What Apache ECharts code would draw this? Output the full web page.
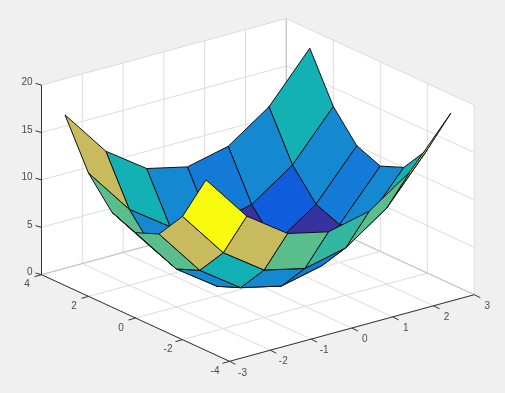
<!DOCTYPE html>
<html>
<head>
<meta charset="utf-8">
<style>html,body{margin:0;padding:0;background:#f0f0f0}#c{width:505px;height:393px}</style>
<script src="https://cdn.jsdelivr.net/npm/echarts@6/dist/echarts.min.js"></script>
</head>
<body>
<div id="c"></div>
<script>
// Data
const xGrid = [-3, -2, -1, 0, 1, 2, 3];
const yGrid = [-3, -2, -1, 0, 1, 2, 3];
// zValues[ix][iy]
const zValues = [
  [18, 13, 10, 9, 10, 13, 18],
  [13, 8, 5, 4, 5, 8, 13],
  [10, 5, 2, 1, 2, 5, 10],
  [9, 4, 1, 0, 1, 4, 9],
  [10, 5, 2, 1, 2, 5, 10],
  [13, 8, 5, 4, 5, 8, 13],
  [18, 13, 10, 9, 10, 13, 18]
];
const xTicks = [-3, -2, -1, 0, 1, 2, 3];
const yTicks = [-4, -2, 0, 2, 4];
const zTicks = [0, 5, 10, 15, 20];
const colorLevels = [0, 1, 2, 4, 5, 8, 9, 10, 13, 18];
const levelColors = ['#352A87', '#3632A0', '#0F5CDD', '#137AD8', '#1488D0', '#14B1B4', '#33B7A0', '#5ABE8C', '#C8BB5E', '#F9FB0E'];

// View: orthographic projection of the box onto the page
const ORIGIN = [229.5, 361.3];      // x=-3, y=-4, z=0
const EX = [40.8, -11.1];
const EY = [-23.5, -10.825];
const EZ = [0, -9.48];
function proj(x, y, z) {
  return [
    ORIGIN[0] + (x + 3) * EX[0] + (y + 4) * EY[0] + z * EZ[0],
    ORIGIN[1] + (x + 3) * EX[1] + (y + 4) * EY[1] + z * EZ[1]
  ];
}
const XMIN = -3, XMAX = 3, YMIN = -4, YMAX = 4, ZMIN = 0, ZMAX = 20;

// Build draw lists from the arrays
const cells = [];
for (let i = xGrid.length - 2; i >= 0; i--) {
  for (let j = yGrid.length - 2; j >= 0; j--) cells.push([i, j]);
}
const LIGHT = '#dcdcdc', EDGE = '#c4c4c4', AXIS = '#333333', TXT = '#4a4a4a';
const gridSegs = [];
xTicks.forEach(x => {
  gridSegs.push([x, YMIN, ZMIN, x, YMAX, ZMIN, 0]);
  gridSegs.push([x, YMAX, ZMIN, x, YMAX, ZMAX, 0]);
});
yTicks.forEach(y => {
  gridSegs.push([XMIN, y, ZMIN, XMAX, y, ZMIN, 0]);
  gridSegs.push([XMAX, y, ZMIN, XMAX, y, ZMAX, 0]);
});
zTicks.forEach(z => {
  gridSegs.push([XMIN, YMAX, z, XMAX, YMAX, z, 0]);
  gridSegs.push([XMAX, YMAX, z, XMAX, YMIN, z, 0]);
});
const edgeSegs = [
  [XMIN, YMAX, ZMIN, XMAX, YMAX, ZMIN, 1],
  [XMAX, YMAX, ZMIN, XMAX, YMIN, ZMIN, 1],
  [XMAX, YMAX, ZMIN, XMAX, YMAX, ZMAX, 1]
];
const axisSegs = [
  [XMIN, YMAX, ZMIN, XMIN, YMAX, ZMAX, 2],
  [XMIN, YMAX, ZMIN, XMIN, YMIN, ZMIN, 2],
  [XMIN, YMIN, ZMIN, XMAX, YMIN, ZMIN, 2]
];
const allSegs = gridSegs.concat(edgeSegs).concat(axisSegs);
const segStyle = [
  { stroke: LIGHT, lineWidth: 1 },
  { stroke: EDGE, lineWidth: 1 },
  { stroke: AXIS, lineWidth: 1 }
];
const labels = [];
xTicks.forEach(v => { const p = proj(v, YMIN, ZMIN); labels.push({ v, a: p, t: [6, 3], o: [13, 11.5], al: 'center' }); });
yTicks.forEach(v => { const p = proj(XMIN, v, ZMIN); labels.push({ v, a: p, t: [-7, 2], o: [-14.5, 10], al: 'center' }); });
zTicks.forEach(v => { const p = proj(XMIN, YMAX, v); labels.push({ v, a: p, t: [-6, -1.7], o: [-9, -2.5], al: 'right' }); });

const chart = echarts.init(document.getElementById('c'), null, { renderer: 'canvas' });

function pt(api, p) { return api.coord(p); }

chart.setOption({
  backgroundColor: '#f0f0f0',
  animation: false,
  grid: { left: 0, right: 0, top: 0, bottom: 0 },
  xAxis: { type: 'value', min: 0, max: 505, show: false },
  yAxis: { type: 'value', min: 0, max: 393, inverse: true, show: false },
  tooltip: { show: false },
  series: [
    {
      name: 'walls', type: 'custom', coordinateSystem: 'cartesian2d', silent: true, clip: false, z: 1,
      data: [[XMIN, YMAX, XMAX, YMIN]],
      renderItem(params, api) {
        const pts = [
          proj(XMIN, YMAX, ZMIN), proj(XMIN, YMIN, ZMIN), proj(XMAX, YMIN, ZMIN),
          proj(XMAX, YMIN, ZMAX), proj(XMAX, YMAX, ZMAX), proj(XMIN, YMAX, ZMAX)
        ].map(p => pt(api, p));
        return { type: 'polygon', shape: { points: pts }, style: { fill: '#ffffff', stroke: 'none' } };
      }
    },
    {
      name: 'box', type: 'custom', coordinateSystem: 'cartesian2d', silent: true, clip: false, z: 2,
      data: allSegs,
      renderItem(params, api) {
        const a = pt(api, proj(api.value(0), api.value(1), api.value(2)));
        const b = pt(api, proj(api.value(3), api.value(4), api.value(5)));
        return { type: 'line', shape: { x1: a[0], y1: a[1], x2: b[0], y2: b[1] }, style: segStyle[api.value(6)] };
      }
    },
    {
      name: 'surface', type: 'custom', coordinateSystem: 'cartesian2d', silent: true, clip: false, z: 3,
      data: cells,
      renderItem(params, api) {
        const i = api.value(0), j = api.value(1);
        const corner = [[i, j], [i + 1, j], [i + 1, j + 1], [i, j + 1]];
        const pts = corner.map(c => pt(api, proj(xGrid[c[0]], yGrid[c[1]], zValues[c[0]][c[1]])));
        const col = levelColors[colorLevels.indexOf(zValues[i][j])];
        return { type: 'polygon', shape: { points: pts }, style: { fill: col, stroke: '#101010', lineWidth: 1, lineJoin: 'round' } };
      }
    },
    {
      name: 'ticks', type: 'custom', coordinateSystem: 'cartesian2d', silent: true, clip: false, z: 4,
      data: labels.map((l, k) => [k]),
      renderItem(params, api) {
        const l = labels[api.value(0)];
        const a = pt(api, l.a);
        return {
          type: 'group',
          children: [
            { type: 'line', shape: { x1: a[0], y1: a[1], x2: a[0] + l.t[0], y2: a[1] + l.t[1] }, style: { stroke: AXIS, lineWidth: 1 } },
            { type: 'text', style: { x: a[0] + l.o[0], y: a[1] + l.o[1], text: String(l.v), fill: TXT, fontSize: 10, fontFamily: 'Liberation Sans', align: l.al, verticalAlign: 'middle' } }
          ]
        };
      }
    }
  ]
});
</script>
</body>
</html>
